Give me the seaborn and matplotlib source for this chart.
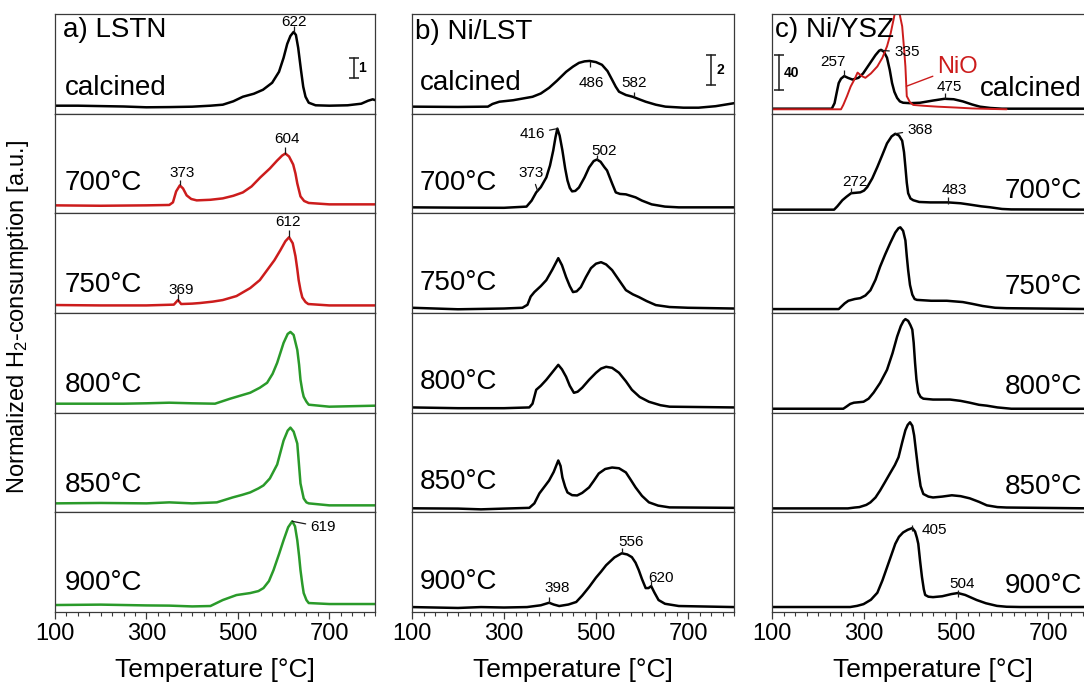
import numpy as np
import pandas as pd
import matplotlib
matplotlib.use("Agg")
import matplotlib.pyplot as plt
from matplotlib.ticker import MultipleLocator, FixedLocator
import seaborn as sns

# ---------------- data (temperature in °C, normalized H2 consumption in a.u.) ----------------
ROW_LABELS = ["calcined", "700°C", "750°C", "800°C", "850°C", "900°C"]
X_TICKS = [100, 300, 500, 700]
X_RANGE = (100, 800)

# a) LSTN
lstn_calcined = [(100, .40), (150, .40), (200, .38), (250, .36), (300, .32), (350, .33), (400, .35), (440, .40),
                 (467, .45), (490, .62), (511, .85), (535, 1.0), (555, 1.20), (575, 1.55), (590, 2.1), (600, 2.8),
                 (608, 3.5), (615, 3.9), (622, 4.1), (627, 3.95), (632, 3.3), (638, 2.2), (643, 1.35), (648, .85),
                 (655, .55), (670, .42), (700, .40), (740, .42), (770, .50), (785, .65), (795, .72), (800, .68)]
lstn_700 = [(100, .40), (200, .38), (300, .40), (350, .42), (358, .55), (365, 1.1), (373, 1.4), (380, 1.25),
            (388, .90), (398, .72), (410, .65), (440, .68), (467, .75), (490, .88), (511, 1.05), (530, 1.35),
            (549, 1.8), (570, 2.25), (586, 2.65), (597, 2.9), (604, 3.0), (612, 2.85), (621, 2.45), (626, 2.0),
            (630, 1.5), (637, .85), (645, .62), (655, .52), (700, .45), (800, .45)]
lstn_750 = [(100, .40), (200, .38), (300, .38), (360, .42), (369, .65), (376, .45), (400, .47), (417, .50),
            (445, .57), (467, .65), (497, .85), (527, 1.25), (548, 1.65), (564, 2.15), (580, 2.65), (593, 3.15),
            (604, 3.6), (612, 3.8), (620, 3.5), (626, 2.85), (630, 2.2), (633, 1.65), (637, 1.15), (641, .78),
            (648, .55), (654, .45), (700, .38), (800, .38)]
lstn_800 = [(100, .45), (200, .45), (250, .45), (300, .47), (350, .50), (400, .47), (450, .45), (483, .70),
            (505, .85), (527, 1.0), (548, 1.25), (564, 1.5), (576, 1.95), (586, 2.5), (600, 3.5), (609, 3.95),
            (615, 4.05), (622, 3.9), (630, 3.15), (634, 2.4), (637, 1.65), (641, 1.1), (644, .80), (650, .55),
            (655, .40), (700, .30), (800, .35)]
lstn_850 = [(100, .45), (200, .47), (300, .45), (350, .50), (400, .45), (454, .50), (489, .75), (510, .88),
            (527, 1.0), (545, 1.2), (556, 1.35), (570, 1.7), (586, 2.4), (600, 3.6), (609, 4.1), (615, 4.25),
            (622, 4.05), (630, 3.45), (633, 2.6), (637, 1.45), (644, .70), (650, .50), (655, .45), (700, .35),
            (800, .35)]
lstn_900 = [(100, .35), (200, .37), (250, .35), (300, .33), (350, .32), (400, .28), (440, .30), (467, .60),
            (497, .85), (527, .95), (545, 1.05), (556, 1.2), (568, 1.55), (578, 2.1), (590, 2.9), (600, 3.6),
            (610, 4.25), (619, 4.55), (625, 4.3), (630, 3.6), (634, 2.8), (637, 2.1), (641, 1.4), (644, .95),
            (650, .60), (655, .45), (700, .40), (800, .40)]

# b) Ni/LST
nilst_calcined = [(100, .47), (200, .45), (265, .47), (275, .65), (290, .80), (320, .90), (362, 1.13), (380, 1.35),
                  (398, 1.73), (415, 2.2), (435, 2.8), (450, 3.15), (463, 3.4), (475, 3.5), (486, 3.53), (500, 3.45),
                  (513, 3.27), (525, 2.85), (535, 2.27), (543, 1.8), (550, 1.47), (565, 1.25), (580, 1.13),
                  (595, .95), (608, .80), (630, .60), (651, .47), (690, .40), (723, .40), (760, .50), (800, .70)]
nilst_700 = [(100, .40), (200, .38), (300, .37), (349, .45), (360, .85), (370, 1.4), (380, 1.75), (392, 2.4),
             (400, 3.2), (407, 4.2), (412, 5.1), (416, 5.67), (421, 5.2), (427, 4.2), (433, 3.0), (438, 2.2),
             (443, 1.7), (448, 1.47), (455, 1.5), (463, 1.73), (475, 2.4), (485, 3.07), (495, 3.5), (502, 3.6),
             (510, 3.45), (518, 3.1), (524, 2.87), (535, 2.0), (543, 1.4), (552, 1.3), (565, 1.27), (586, 1.07),
             (600, .85), (621, .60), (650, .45), (680, .40), (800, .40)]
nilst_750 = [(100, .35), (200, .25), (300, .30), (340, .35), (351, .55), (358, 1.1), (366, 1.4), (380, 1.8),
             (392, 2.2), (405, 2.9), (418, 3.67), (426, 3.2), (435, 2.4), (443, 1.8), (450, 1.4), (458, 1.45),
             (467, 1.73), (478, 2.4), (489, 3.0), (500, 3.3), (511, 3.4), (522, 3.25), (535, 2.87), (550, 2.2),
             (565, 1.53), (580, 1.25), (593, 1.07), (610, .80), (630, .53), (660, .40), (700, .35), (800, .30)]
nilst_800 = [(100, .35), (200, .30), (300, .30), (355, .35), (362, .60), (370, 1.53), (380, 1.8), (392, 2.2),
             (405, 2.7), (418, 3.2), (426, 2.9), (435, 2.4), (443, 1.8), (452, 1.33), (460, 1.4), (470, 1.67),
             (485, 2.2), (500, 2.67), (511, 2.95), (522, 3.07), (535, 3.0), (550, 2.67), (565, 2.1), (578, 1.53),
             (595, 1.05), (615, .73), (640, .50), (660, .40), (800, .35)]
nilst_850 = [(100, .27), (200, .25), (250, .20), (300, .25), (355, .30), (366, .60), (377, 1.27), (390, 1.8),
             (398, 2.13), (408, 2.7), (418, 3.47), (423, 3.1), (427, 2.33), (433, 1.7), (438, 1.33), (448, 1.15),
             (459, 1.13), (470, 1.3), (485, 1.67), (495, 2.1), (506, 2.6), (520, 2.9), (535, 3.0), (550, 2.95),
             (565, 2.67), (575, 2.2), (586, 1.67), (600, 1.1), (615, .67), (635, .45), (660, .33), (800, .30)]
nilst_900 = [(100, .33), (200, .27), (250, .33), (300, .30), (350, .33), (380, .45), (398, .62), (408, .50),
             (420, .40), (440, .50), (457, .67), (470, 1.1), (485, 1.67), (500, 2.3), (511, 2.7), (522, 3.13),
             (540, 3.65), (556, 3.93), (568, 3.85), (578, 3.67), (586, 3.3), (593, 2.8), (600, 2.2), (608, 1.6),
             (614, 1.6), (620, 1.73), (627, 1.3), (636, .80), (650, .55), (680, .40), (800, .33)]

# c) Ni/YSZ
niysz_calcined = [(100, 5.7), (230, 5.7), (236, 12), (241, 25), (245, 35), (250, 40), (257, 43), (265, 41),
                  (275, 39), (288, 41), (298, 46), (307, 53), (316, 60), (325, 67), (333, 72), (337, 73), (343, 71),
                  (350, 64), (356, 50), (361, 35), (366, 25), (372, 18), (378, 14), (385, 12.5), (400, 12),
                  (422, 12.5), (450, 15), (475, 17), (495, 16.5), (515, 14), (535, 10.5), (552, 8), (575, 6.5),
                  (600, 5.7), (800, 5.7)]
nio_reference = [(100, 5.0), (250, 5.0), (255, 10), (263, 20), (271, 31), (280, 40), (286, 47), (295, 43),
                 (303, 41), (315, 46), (329, 54), (340, 64), (350, 77), (358, 92), (364, 107), (369, 120),
                 (374, 125), (379, 110), (383, 100), (387, 75), (390, 54), (393, 20), (400, 13), (407, 10),
                 (430, 9), (460, 8), (500, 7), (535, 6), (570, 5.5), (610, 5.0)]
niysz_700 = [(100, 4.2), (235, 4.2), (242, 8), (253, 15), (262, 19), (272, 23), (282, 23.5), (292, 24), (300, 26),
             (307, 30), (318, 40), (329, 53), (340, 67), (350, 80), (360, 88), (368, 91), (376, 89), (383, 83),
             (387, 70), (390, 53), (393, 35), (396, 23), (401, 17), (407, 15), (420, 13), (444, 12.5), (483, 12.5),
             (510, 11.5), (530, 10), (555, 8), (573, 7), (600, 5), (620, 4.5), (800, 4.2)]
niysz_750 = [(100, 4.5), (245, 4.5), (252, 8), (258, 11), (266, 14), (280, 16), (292, 17), (303, 20), (314, 26),
             (325, 38), (335, 53), (346, 67), (357, 80), (368, 92), (375, 97), (379, 98), (385, 94), (390, 83),
             (393, 65), (396, 49), (400, 32), (405, 21), (410, 16), (415, 15), (446, 14), (480, 14), (515, 12.5),
             (535, 10.5), (558, 8), (585, 6), (610, 5.5), (800, 4.5)]
niysz_800 = [(100, 4.5), (255, 4.5), (262, 7), (270, 10), (278, 11.4), (290, 12), (299, 12.5), (310, 16),
             (321, 23), (335, 34), (350, 49), (362, 68), (372, 87), (380, 99), (386, 105), (390, 107), (396, 105),
             (401, 100), (405, 95), (408, 80), (411, 57), (414, 38), (418, 23), (423, 18), (429, 16), (450, 15),
             (487, 15), (510, 13.5), (530, 11.4), (550, 9), (567, 8), (590, 6), (620, 4.5), (800, 4.5)]
niysz_850 = [(100, 4.5), (265, 4.5), (280, 5.5), (290, 6), (305, 8.5), (314, 11.4), (325, 17), (335, 25),
             (345, 34), (357, 45), (367, 54), (375, 63), (383, 80), (390, 94), (395, 100), (400, 103), (405, 99),
             (409, 88), (413, 70), (418, 48), (423, 30), (429, 21), (440, 18), (450, 17), (470, 18), (491, 19.5),
             (510, 18.5), (530, 16), (550, 12), (567, 8), (590, 6), (610, 5.5), (800, 4.5)]
niysz_900 = [(100, 5.7), (270, 5.7), (285, 7), (299, 9), (315, 14), (329, 22), (340, 36), (350, 51), (360, 66),
             (368, 78), (376, 86), (385, 91), (395, 94), (405, 96), (411, 92), (415, 85), (418, 78), (422, 58),
             (426, 40), (430, 26), (433, 19.5), (440, 17.5), (450, 17), (470, 18), (490, 20.5), (504, 21.7),
             (520, 19.5), (545, 13.7), (565, 10), (589, 7), (610, 6), (640, 5.7), (800, 5.7)]

# labelled peak temperatures per row
lstn_peaks = [[622], [373, 604], [612, 369], [], [], [619]]
nilst_peaks = [[486, 582], [416, 373, 502], [], [], [], [398, 556, 620]]
niysz_peaks = [[257, 335, 475], [368, 272, 483], [], [], [], [405, 504]]

# scale bars (a.u.)
SCALE_A, SCALE_B, SCALE_C = 1, 2, 40

# ---------------- style ----------------
sns.set_theme(style="white")
plt.rcParams["font.family"] = ["Liberation Sans", "DejaVu Sans"]
plt.rcParams["mathtext.default"] = "regular"
plt.rcParams["axes.edgecolor"] = "#3a3a3a"
plt.rcParams["axes.linewidth"] = 0.9
plt.rcParams["text.color"] = "black"
plt.rcParams["axes.labelcolor"] = "black"
plt.rcParams["xtick.color"] = "black"
plt.rcParams["xtick.labelcolor"] = "black"

BLACK, RED, GREEN = "#000000", "#cc1c1c", "#2a9a2a"
LW = 1.8
LABEL_FS, TICK_FS, XLABEL_FS, PEAK_FS, YLABEL_FS = 20, 17, 19, 11, 17

W, H = 1084, 684
TOP, BOTTOM = 14, 612
ROW_H = (BOTTOM - TOP) / 6

# annotation layout: (dx_pt, dy_pt, ha, tick(pt range) or None, leader)
ANN = {
    (0, 622): (0, 7, "center", (0, 4), False),
    (0, 373): (2, 8.6, "center", (0, 4), False),
    (0, 604): (1, 10.8, "center", (0, 5), False),
    (0, 612): (-1, 10.8, "center", (0, 5), False),
    (0, 369): (2, 7, "center", (-1, 4), False),
    (0, 619): (13, -4.3, "left", None, True),
    (1, 486): (1, -15.8, "center", (0, -4.5), False),
    (1, 582): (0, 10, "center", (0, 4), False),
    (1, 416): (-9, -3.6, "right", None, True),
    (1, 373): (-4.3, 13, "center", None, True),
    (1, 502): (5, 6, "center", (0, 3), False),
    (1, 398): (6, 10.8, "center", (0, 4), False),
    (1, 556): (7, 8, "center", (0, 4), False),
    (1, 620): (7, 6, "center", (0, 4), False),
    (2, 257): (-8, 10, "center", (0, 4.3), False),
    (2, 335): (10, -1.4, "left", None, True),
    (2, 475): (3.6, 8.3, "center", (0, 4), False),
    (2, 368): (8.6, 3, "left", None, True),
    (2, 272): (3, 8, "center", (0, 4), False),
    (2, 483): (4.3, 8.6, "center", (-1, 4), False),
    (2, 405): (7, -1.4, "left", (-2, 2), False),
    (2, 504): (3, 6.5, "center", (-2.5, 2.5), False),
}

PANELS = [
    dict(title="a) LSTN", curves=[lstn_calcined, lstn_700, lstn_750, lstn_800, lstn_850, lstn_900],
         colors=[BLACK, RED, RED, GREEN, GREEN, GREEN], ymax=5.0, peaks=lstn_peaks,
         x0=55, w=320, title_xy=(0.025, 0.84), lab_x=0.03, lab_ha="left",
         lab_y=[0.26, 0.30, 0.28, 0.28, 0.27, 0.29], bar=(753, 1.8, SCALE_A)),
    dict(title="b) Ni/LST", curves=[nilst_calcined, nilst_700, nilst_750, nilst_800, nilst_850, nilst_900],
         colors=[BLACK] * 6, ymax=6.67, peaks=nilst_peaks,
         x0=412, w=322, title_xy=(0.008, 0.82), lab_x=0.025, lab_ha="left",
         lab_y=[0.31, 0.30, 0.30, 0.31, 0.30, 0.30], bar=(751, 1.95, SCALE_B)),
    dict(title="c) Ni/YSZ", curves=[niysz_calcined, niysz_700, niysz_750, niysz_800, niysz_850, niysz_900],
         colors=[BLACK] * 6, ymax=114, peaks=niysz_peaks,
         x0=772, w=322, title_xy=(0.01, 0.84), lab_x=0.962, lab_ha="right",
         lab_y=[0.25, 0.22, 0.26, 0.26, 0.25, 0.26], bar=(115, 27, SCALE_C)),
]

fig = plt.figure(figsize=(W / 100, H / 100), dpi=100)
row_h_in = ROW_H / 100.0

for p_idx, panel in enumerate(PANELS):
    k = panel["ymax"] / (row_h_in * 72.0)  # data units per point
    for r in range(6):
        y_top = TOP + r * ROW_H
        ax = fig.add_axes([panel["x0"] / W, 1 - (y_top + ROW_H) / H, panel["w"] / W, ROW_H / H])
        pts = panel["curves"][r]
        df = pd.DataFrame(pts, columns=["T", "v"])
        sns.lineplot(data=df, x="T", y="v", ax=ax, color=panel["colors"][r], linewidth=LW,
                     estimator=None, sort=False)
        if p_idx == 2 and r == 0:
            dfn = pd.DataFrame(nio_reference, columns=["T", "v"])
            sns.lineplot(data=dfn, x="T", y="v", ax=ax, color=RED, linewidth=1.4,
                         estimator=None, sort=False)
            yn = np.interp(392, dfn["T"], dfn["v"])
            ax.annotate("NiO", xy=(392, yn), xytext=(37, 14), textcoords="offset points",
                        ha="center", va="center", fontsize=17, color=RED,
                        arrowprops=dict(arrowstyle="-", color=RED, lw=1.0, shrinkA=1, shrinkB=0))
        ax.set_xlim(*X_RANGE)
        ax.set_ylim(0, panel["ymax"])
        ax.set_xlabel("")
        ax.set_ylabel("")
        ax.set_yticks([])
        for s in ax.spines.values():
            s.set_visible(True)

        # row label
        ax.text(panel["lab_x"], panel["lab_y"][r], ROW_LABELS[r], transform=ax.transAxes,
                ha=panel["lab_ha"], va="center", fontsize=LABEL_FS, color="black")
        if r == 0:
            tx, ty = panel["title_xy"]
            ax.text(tx, ty, panel["title"], transform=ax.transAxes, ha="left", va="center",
                    fontsize=LABEL_FS, color="black")
            bx, by, bl = panel["bar"]
            ax.plot([bx, bx], [by, by + bl], color="k", lw=1.1, marker="_", markersize=7, mew=1.1)
            ax.annotate(str(bl), xy=(bx, by + bl / 2), xytext=(3.5, 0), textcoords="offset points",
                        ha="left", va="center", fontsize=10, fontweight="bold")

        # peak labels
        Ts = df["T"].to_numpy()
        Vs = df["v"].to_numpy()
        for T in panel["peaks"][r]:
            dx, dy, ha, tick, leader = ANN[(p_idx, T)]
            yv = np.interp(T, Ts, Vs)
            if tick is not None:
                ax.plot([T, T], [yv + tick[0] * k, yv + tick[1] * k], color="k", lw=0.9,
                        solid_capstyle="butt")
            if leader:
                ax.annotate(str(T), xy=(T, yv), xytext=(dx, dy), textcoords="offset points",
                            ha=ha, va="center", fontsize=PEAK_FS,
                            arrowprops=dict(arrowstyle="-", color="k", lw=0.9, shrinkA=1, shrinkB=0))
            else:
                ax.annotate(str(T), xy=(T, yv), xytext=(dx, dy), textcoords="offset points",
                            ha=ha, va="center", fontsize=PEAK_FS)

        if r == 5:
            ax.xaxis.set_major_locator(FixedLocator(X_TICKS))
            ax.xaxis.set_minor_locator(MultipleLocator(25))
            ax.tick_params(axis="x", which="both", bottom=True, direction="out", color="#3a3a3a")
            ax.tick_params(axis="x", which="major", length=5, width=0.9, pad=3, labelsize=TICK_FS,
                           labelcolor="black")
            ax.tick_params(axis="x", which="minor", length=3, width=0.8)
            ax.set_xlabel("Temperature [°C]", fontsize=XLABEL_FS, labelpad=9, color="black")
        else:
            ax.tick_params(axis="x", which="both", bottom=False, labelbottom=False)

fig.text(0.017, 0.537, "Normalized H$_2$-consumption [a.u.]", rotation=90, ha="center", va="center",
         fontsize=YLABEL_FS, color="black")

fig.savefig("out.png", dpi=100)
